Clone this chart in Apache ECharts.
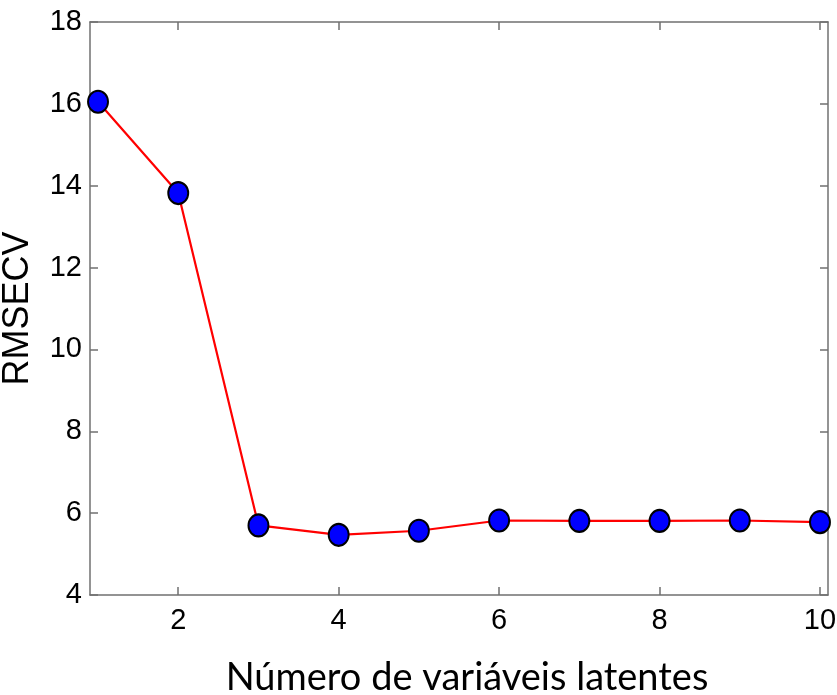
<!DOCTYPE html>
<html>
<head>
<meta charset="utf-8">
<script src="https://cdn.jsdelivr.net/npm/echarts@6/dist/echarts.min.js"></script>
<style>
  html, body { margin: 0; padding: 0; background: #fff; }
  #chart { width: 837px; height: 695px; }
</style>
</head>
<body>
<div id="chart"></div>
<script>
// número de variáveis latentes
var latentVars = [1, 2, 3, 4, 5, 6, 7, 8, 9, 10];
// RMSECV
var rmsecv = [16.05, 13.82, 5.70, 5.47, 5.57, 5.82, 5.81, 5.81, 5.82, 5.78];
var xTickValues = [2, 4, 6, 8, 10];

var axisColor = '#707070';
var myChart = echarts.init(document.getElementById('chart'));

var points = latentVars.map(function (v, i) { return [v, rmsecv[i]]; });

myChart.setOption({
    animation: false,
    backgroundColor: '#fff',
    grid: { left: 90, right: 9, top: 22, bottom: 100, outerBoundsMode: 'none' },
    xAxis: [
        {
            type: 'value',
            min: 0.9,
            max: 10.1,
            name: 'Número de variáveis latentes',
            nameLocation: 'middle',
            nameGap: 64,
            nameTextStyle: { fontFamily: 'Lato', fontSize: 38, color: '#000', padding: [0, 0, 0, 16] },
            axisLine: { lineStyle: { color: axisColor, width: 1.5 } },
            axisTick: { inside: true, length: 8, customValues: xTickValues, lineStyle: { color: axisColor, width: 1.5 } },
            axisLabel: { customValues: xTickValues, fontFamily: 'Liberation Sans', fontSize: 29, color: '#000', margin: 11 },
            splitLine: { show: false }
        },
        {
            type: 'value',
            position: 'top',
            min: 0.9,
            max: 10.1,
            axisLine: { lineStyle: { color: axisColor, width: 1.5 } },
            axisTick: { inside: true, length: 8, customValues: xTickValues, lineStyle: { color: axisColor, width: 1.5 } },
            axisLabel: { show: false },
            splitLine: { show: false }
        }
    ],
    yAxis: [
        {
            type: 'value',
            min: 4,
            max: 18,
            interval: 2,
            name: 'RMSECV',
            nameLocation: 'middle',
            nameGap: 54,
            nameMoveOverlap: false,
            nameTextStyle: { fontFamily: 'Liberation Sans', fontSize: 36, color: '#000' },
            axisLine: { show: true, lineStyle: { color: axisColor, width: 1.5 } },
            axisTick: { show: true, inside: true, length: 8, lineStyle: { color: axisColor, width: 1.5 } },
            axisLabel: { fontFamily: 'Liberation Sans', fontSize: 29, color: '#000', margin: 8 },
            splitLine: { show: false }
        },
        {
            type: 'value',
            position: 'right',
            min: 4,
            max: 18,
            interval: 2,
            axisLine: { show: true, lineStyle: { color: axisColor, width: 1.5 } },
            axisTick: { show: true, inside: true, length: 8, lineStyle: { color: axisColor, width: 1.5 } },
            axisLabel: { show: false },
            splitLine: { show: false }
        }
    ],
    series: [
        {
            type: 'line',
            data: points,
            clip: false,
            symbol: 'circle',
            symbolSize: [20, 22],
            lineStyle: { color: '#ff0000', width: 2.2 },
            itemStyle: { color: '#0000ff', borderColor: '#000', borderWidth: 2 }
        }
    ]
});
</script>
</body>
</html>
